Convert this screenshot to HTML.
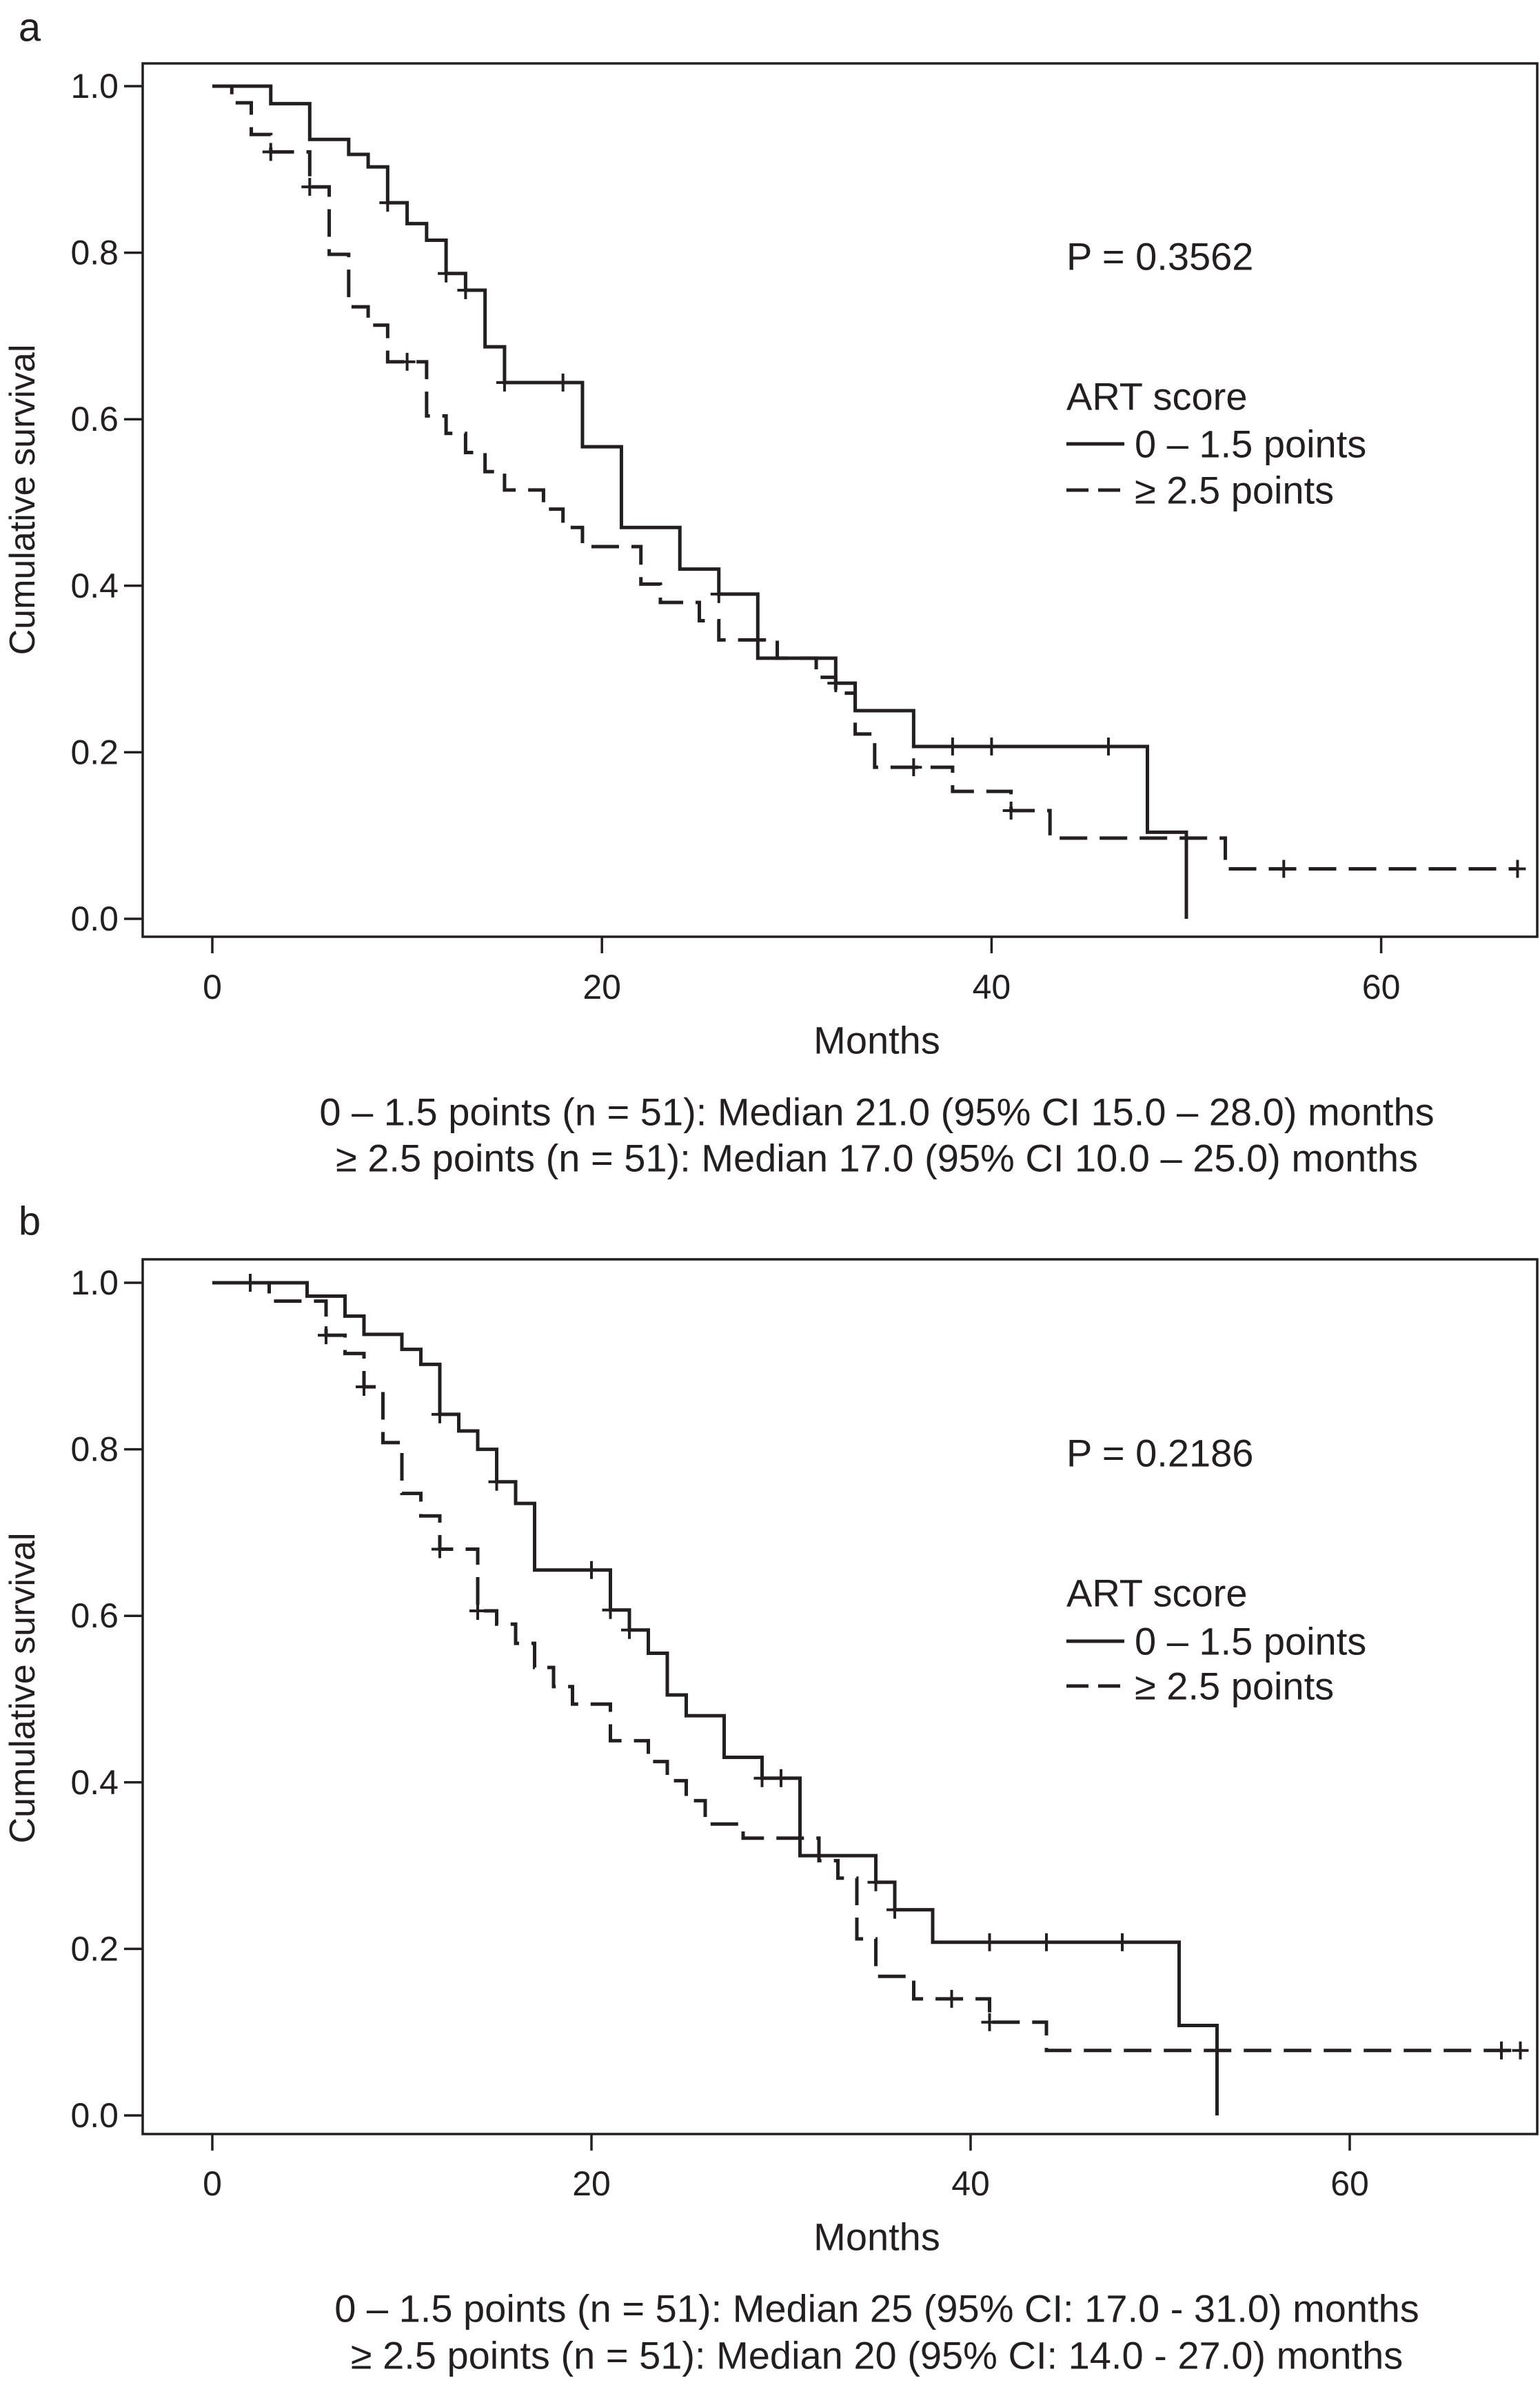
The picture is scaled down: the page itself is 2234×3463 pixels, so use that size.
<!DOCTYPE html>
<html><head><meta charset="utf-8">
<style>
html,body{margin:0;padding:0;background:#fff;}
svg{display:block;}
text{font-family:"Liberation Sans Narrow","Liberation Sans",sans-serif;fill:#231f20;}
</style></head>
<body>
<svg id="chart" width="2234" height="3463" viewBox="0 0 2234 3463" xmlns="http://www.w3.org/2000/svg"></svg>
<script>
// ---- Panel a data (months, survival) ----
const aSolidT = [0,3,5,7,8,9,10,11,12,13,14,15,19,21,24,26,28,32,33,36,48,50];
const aSolidS = [1.0,0.979,0.936,0.918,0.903,0.860,0.835,0.815,0.775,0.755,0.687,0.644,0.567,0.470,0.420,0.390,0.313,0.283,0.250,0.207,0.104,0.0];
const aSolidCensT = [9,12,13,15,18,26,32,38,40,46];
const aDashT = [0,1,2,3,5,6,7,8,9,11,12,13,14,15,17,18,19,22,23,25,26,29,31,32,33,34,38,41,43,52];
const aDashS = [1.0,0.98,0.942,0.921,0.879,0.798,0.735,0.713,0.669,0.604,0.583,0.560,0.537,0.515,0.492,0.470,0.447,0.402,0.380,0.358,0.335,0.313,0.290,0.271,0.222,0.182,0.153,0.130,0.097,0.060];
const aDashCensT = [3,5,10,28,36,41,55,67];
const aMaxT = 68;
// ---- Panel b data ----
const bSolidT = [0,5,7,8,10,11,12,13,14,15,16,17,21,22,23,24,25,27,29,31,35,36,38,51,53];
const bSolidS = [1.0,0.984,0.960,0.938,0.920,0.902,0.842,0.822,0.800,0.761,0.735,0.655,0.607,0.583,0.555,0.505,0.480,0.430,0.405,0.312,0.280,0.247,0.208,0.108,0.0];
const bSolidCensT = [12,15,20,21,22,29,30,35,36,41,44,48];
const bDashT = [0,3,6,7,8,9,10,11,12,14,15,16,17,18,19,21,23,24,25,26,28,32,33,34,35,37,41,44];
const bDashS = [1.0,0.978,0.937,0.915,0.875,0.808,0.747,0.720,0.680,0.606,0.590,0.567,0.538,0.515,0.494,0.450,0.425,0.402,0.378,0.350,0.333,0.306,0.285,0.212,0.167,0.140,0.112,0.078];
const bDashCensT = [2,6,8,12,14,39,41,68,69];
const bMaxT = 70;
const yTicks = [0.0,0.2,0.4,0.6,0.8,1.0];
const yTickLabels = ["0.0","0.2","0.4","0.6","0.8","1.0"];
const xTicks = [0,20,40,60];
const xTickLabels = ["0","20","40","60"];

const NS = "http://www.w3.org/2000/svg";
const svg = document.getElementById('chart');
const DASH = '40 18';
function mk(tag, attrs, parent){
  const e = document.createElementNS(NS, tag);
  for (const k in attrs) e.setAttribute(k, attrs[k]);
  (parent||svg).appendChild(e);
  return e;
}
function txt(s, x, y, size, anchor, parent){
  const t = mk('text', {x:x, y:y, 'font-size':size, 'text-anchor':anchor||'start', 'dominant-baseline':'central'}, parent);
  t.textContent = s;
  return t;
}
function survAt(T, S, t){
  let v = S[0];
  for (let i=0;i<T.length;i++){ if (T[i] <= t) v = S[i]; }
  return v;
}
function drawPanel(p){
  const g = mk('g', {});
  
  
  const xs = t => p.x0 + t * p.pxPerMonth;
  const ys = s => p.yBottom - s * (p.yBottom - p.yTop);

  const lbl = txt(p.letter, 43, p.letterY, 58, 'middle', g);
  
  

  const box = mk('rect', {x:207, y:p.boxTop, width:2023, height:p.boxBottom-p.boxTop, fill:'none', stroke:'#231f20', 'stroke-width':3.5}, g);
  
  

  yTicks.forEach((v,i)=>{
    const y = ys(v);
    const tk = mk('line', {x1:180, x2:207, y1:y, y2:y, stroke:'#231f20', 'stroke-width':3.5}, g);
    
    
    const tl = txt(yTickLabels[i], 172, y, 50, 'end', g);
    
    
  });
  xTicks.forEach((v,i)=>{
    const x = xs(v);
    const tk = mk('line', {x1:x, x2:x, y1:p.boxBottom, y2:p.boxBottom+24, stroke:'#231f20', 'stroke-width':3.5}, g);
    
    
    const tl = txt(xTickLabels[i], x, p.xLabelY, 50, 'middle', g);
    
    
  });
  const xt = txt('Months', 1272, p.monthsY, 56, 'middle', g);
  
  
  const yt = txt('Cumulative survival', 0, 0, 52, 'middle', g);
  yt.setAttribute('transform', 'translate(33,'+p.yTitleY+') rotate(-90)');
  yt.setAttribute('style', 'font-family:"Liberation Sans",sans-serif');
  
  

  function curve(T, S, censT, endT, dashed, name){
    let d = 'M' + xs(T[0]) + ' ' + ys(S[0]);
    for (let i=1;i<T.length;i++){
      d += ' H' + xs(T[i]) + ' V' + ys(S[i]);
    }
    if (S[S.length-1] > 0) d += ' H' + xs(endT);
    const path = mk('path', {d:d, fill:'none', stroke:'#231f20', 'stroke-width':5, 'stroke-dasharray': dashed ? DASH : 'none'}, g);
    
    
    censT.forEach(t=>{
      const cx = xs(t), cy = ys(survAt(T,S,t));
      const c = mk('path', {d:'M'+cx+' '+(cy-13)+' V'+(cy+13)+' M'+(cx-12)+' '+cy+' H'+(cx+12), stroke:'#231f20', 'stroke-width':4, fill:'none'}, g);
      
      
    });
  }
  curve(p.sT, p.sS, p.sC, p.sT[p.sT.length-1], false, 'curve-0-1.5-points');
  curve(p.dT, p.dS, p.dC, p.dC[p.dC.length-1], true, 'curve-ge-2.5-points');

  const pv = txt(p.pText, 1547, p.pY, 56, 'start', g);
  
  
  const lt = txt('ART score', 1547, p.legY, 56, 'start', g);
  
  
  const l1 = mk('line', {x1:1547, x2:1631, y1:p.leg1Y, y2:p.leg1Y, stroke:'#231f20', 'stroke-width':5}, g);
  
  
  const t1 = txt('0 – 1.5 points', 1646, p.leg1Y, 56, 'start', g);
  
  
  const l2 = mk('line', {x1:1547, x2:1631, y1:p.leg2Y, y2:p.leg2Y, stroke:'#231f20', 'stroke-width':5, 'stroke-dasharray':'32 14'}, g);
  
  
  const t2 = txt('≥ 2.5 points', 1646, p.leg2Y, 56, 'start', g);
  
  

  const f1 = txt(p.foot1, 1272, p.foot1Y, 56, 'middle', g);
  
  
  const f2 = txt(p.foot2, 1272, p.foot2Y, 56, 'middle', g);
  
  
}

drawPanel({name:'panel-a', letter:'a', letterY:40, boxTop:92, boxBottom:1359, yTop:125, yBottom:1333,
  x0:308, pxPerMonth:28.26, xLabelY:1432, monthsY:1509, yTitleY:725,
  sT:aSolidT, sS:aSolidS, sC:aSolidCensT, dT:aDashT, dS:aDashS, dC:aDashCensT,
  pText:'P = 0.3562', pY:372, legY:575, leg1Y:644, leg2Y:711,
  foot1:'0 – 1.5 points (n =  51): Median 21.0 (95% CI 15.0 – 28.0) months', foot1Y:1613,
  foot2:'≥ 2.5 points (n = 51): Median 17.0 (95% CI 10.0 – 25.0) months', foot2Y:1680});

drawPanel({name:'panel-b', letter:'b', letterY:1772, boxTop:1827, boxBottom:3096, yTop:1861, yBottom:3069,
  x0:308, pxPerMonth:27.5, xLabelY:3168, monthsY:3245, yTitleY:2449,
  sT:bSolidT, sS:bSolidS, sC:bSolidCensT, dT:bDashT, dS:bDashS, dC:bDashCensT,
  pText:'P = 0.2186', pY:2108, legY:2311, leg1Y:2381, leg2Y:2446,
  foot1:'0 – 1.5 points (n =  51): Median 25 (95% CI: 17.0 - 31.0) months', foot1Y:3349,
  foot2:'≥ 2.5 points (n = 51): Median 20 (95% CI: 14.0 - 27.0) months', foot2Y:3417});
</script>
</body></html>
